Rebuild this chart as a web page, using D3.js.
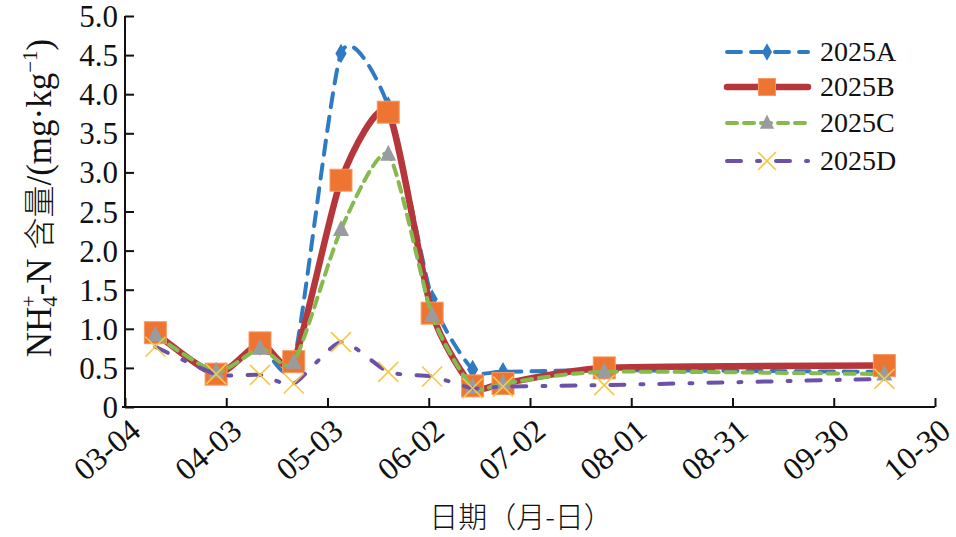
<!DOCTYPE html>
<html><head><meta charset="utf-8">
<script src="https://cdn.jsdelivr.net/npm/d3@7"></script>
<style>
html,body{margin:0;padding:0;background:#fff;}
svg{display:block;}
</style></head>
<body>
<svg id="chart" width="956" height="537"></svg>
<script>
// ---- data ----
const dates = ["03-13","03-31","04-13","04-23","05-07","05-21","06-03","06-15","06-24","07-24","10-15"];
const seriesNames = ["2025A","2025B","2025C","2025D"];
const valuesA = [0.92, 0.45, 0.78, 0.58, 4.52, 3.85, 1.38, 0.48, 0.45, 0.47, 0.45];
const valuesB = [0.95, 0.42, 0.82, 0.58, 2.90, 3.77, 1.20, 0.27, 0.30, 0.50, 0.53];
const valuesC = [0.92, 0.45, 0.75, 0.57, 2.27, 3.23, 1.17, 0.25, 0.30, 0.45, 0.42];
const valuesD = [0.77, 0.42, 0.41, 0.30, 0.83, 0.45, 0.39, 0.24, 0.26, 0.28, 0.36];
const xTickLabels = ["03-04","04-03","05-03","06-02","07-02","08-01","08-31","09-30","10-30"];
const yTickValues = [0,0.5,1.0,1.5,2.0,2.5,3.0,3.5,4.0,4.5,5.0];

const year = 2025;
const parse = s => { const [m,d] = s.split("-").map(Number); return new Date(year, m-1, d); };

const svg = d3.select("#chart");
const M = {left:125, right:935, top:16, bottom:407};
const x = d3.scaleTime().domain([parse("03-04"), parse("10-30")]).range([M.left, M.right]);
const y = d3.scaleLinear().domain([0,5]).range([M.bottom, M.top]);

const serif = "'Times New Roman','Liberation Serif',serif";

// axes
const xAxis = d3.axisBottom(x)
  .tickValues(xTickLabels.map(parse))
  .tickSize(-9).tickSizeOuter(0).tickFormat(d3.timeFormat("%m-%d"));
const gx = svg.append("g").attr("transform",`translate(0,${M.bottom})`).call(xAxis);
gx.select(".domain").attr("stroke","#111").attr("stroke-width",2).attr("d",`M${M.left-3},0H${M.right}`);
gx.selectAll(".tick line").attr("stroke","#111").attr("stroke-width",2);
gx.selectAll(".tick text")
  .attr("font-family",serif).attr("font-size",32).attr("fill","#111")
  .attr("text-anchor","end").attr("y",0).attr("dy",0)
  .attr("transform","translate(17,27) rotate(-40)");

const yAxis = d3.axisLeft(y).tickValues(yTickValues)
  .tickSize(-9).tickSizeOuter(0)
  .tickFormat(d => d===0 ? "0" : d3.format(".1f")(d));
const gy = svg.append("g").attr("transform",`translate(${M.left},0)`).call(yAxis);
gy.select(".domain").attr("stroke","#111").attr("stroke-width",2).attr("d",`M0,${M.bottom}V${M.top}`);
gy.selectAll(".tick line").attr("stroke","#111").attr("stroke-width",2);
gy.selectAll(".tick text").attr("font-family",serif).attr("font-size",31).attr("fill","#111")
  .attr("x",-7).attr("dy","0.34em");

// y title
const yt = svg.append("text")
  .attr("transform","translate(51,198) rotate(-90)")
  .attr("text-anchor","middle")
  .attr("font-family",serif+",'Noto Sans CJK SC'")
  .attr("font-size",35).attr("fill","#111");
yt.append("tspan").text("NH");
yt.append("tspan").attr("font-size",21).attr("dy",6).text("4");
yt.append("tspan").attr("font-size",21).attr("dx",-11).attr("dy",-21).text("+");
yt.append("tspan").attr("dy",15).text("-N ");
yt.append("tspan").attr("font-family","'Noto Sans CJK SC'").attr("font-size",32).attr("font-weight",300).text("含量");
yt.append("tspan").text("/(mg·kg");
yt.append("tspan").attr("font-size",21).attr("dy",-14).text("−1");
yt.append("tspan").attr("dy",14).text(")");

// x title
svg.append("text").attr("x",521).attr("y",528).attr("text-anchor","middle")
  .attr("font-family","'Noto Sans CJK SC'").attr("font-size",29).attr("font-weight",300).attr("fill","#111")
  .text("日期（月-日）");

// series
const series = [
  {name:seriesNames[0], vals:valuesA, color:"#2E7BC4", width:4, dash:"14,10", marker:"diamond", mfill:"#2E7BC4"},
  {name:seriesNames[1], vals:valuesB, color:"#B5373B", width:6.5, dash:null, marker:"square", mfill:"#EE7431"},
  {name:seriesNames[2], vals:valuesC, color:"#86BA4E", width:4, dash:"10,7", marker:"triangle", mfill:"#999C9F"},
  {name:seriesNames[3], vals:valuesD, color:"#6B52A6", width:4, dash:"14,16,3,16", marker:"x", mfill:"#F4C84A"}
];

function drawMarker(g, type, fill, cx, cy, scale=1){
  if(type==="diamond"){
    g.append("path").attr("d",d3.symbol().type(d3.symbolDiamond).size(110*scale)())
     .attr("transform",`translate(${cx},${cy})`).attr("fill",fill);
  } else if(type==="square"){
    const s=22*Math.sqrt(scale);
    g.append("rect").attr("x",cx-s/2).attr("y",cy-s/2).attr("width",s).attr("height",s)
     .attr("fill",fill).attr("stroke","#F59A62").attr("stroke-width",1);
  } else if(type==="triangle"){
    const w=16*Math.sqrt(scale), h=16*Math.sqrt(scale);
    g.append("path").attr("d",`M${cx},${cy-h*0.6}L${cx+w/2},${cy+h*0.4}L${cx-w/2},${cy+h*0.4}Z`).attr("fill",fill);
  } else if(type==="x"){
    const r=10*Math.sqrt(scale);
    g.append("path").attr("d",`M${cx-r},${cy-r}L${cx+r},${cy+r}M${cx-r},${cy+r}L${cx+r},${cy-r}`)
     .attr("stroke",fill).attr("stroke-width",1.6).attr("fill","none");
  }
}

const line = d3.line().x(d=>x(parse(d.date))).y(d=>y(d.v)).curve(d3.curveCardinal.tension(0.35));

series.forEach(s=>{
  const pts = dates.map((dt,i)=>({date:dt, v:s.vals[i]}));
  const g = svg.append("g");
  g.append("path").datum(pts).attr("d",line).attr("fill","none")
    .attr("stroke",s.color).attr("stroke-width",s.width)
    .attr("stroke-dasharray",s.dash).attr("stroke-linecap","round").attr("stroke-linejoin","round");
  pts.forEach(p=>drawMarker(g, s.marker, s.mfill, x(parse(p.date)), y(p.v)));
});

// legend
const legY = [52,87,123,161];
series.forEach((s,i)=>{
  const g = svg.append("g");
  const yy = legY[i];
  g.append("line").attr("x1",727).attr("x2",808).attr("y1",yy).attr("y2",yy)
    .attr("stroke",s.color).attr("stroke-width",s.width)
    .attr("stroke-dasharray",s.dash).attr("stroke-linecap","round");
  drawMarker(g, s.marker, s.mfill, 767, yy, i===1?0.6:0.8);
  g.append("text").attr("x",820).attr("y",yy+9).attr("font-family",serif).attr("font-size",28)
    .attr("fill","#111").text(s.name);
});
</script>
</body></html>
